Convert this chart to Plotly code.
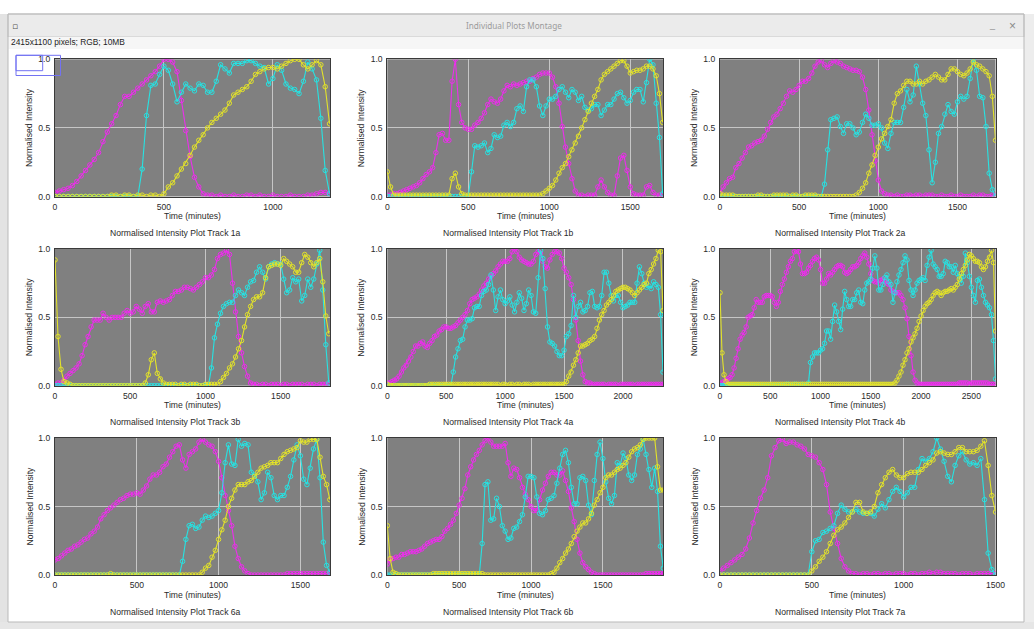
import numpy as np
import plotly.graph_objects as go

W, H = 1034, 629
STEP = 20  # minutes between frames of every track

# ---------------- Track 1a ----------------
M_1A = [0.03,0.04,0.05,0.06,0.08,0.11,0.15,0.19,0.23,0.27,
        0.32,0.40,0.47,0.53,0.59,0.67,0.73,0.73,0.76,0.79,
        0.82,0.85,0.88,0.91,0.95,1.00,1.00,0.98,0.91,0.70,
        0.48,0.29,0.14,0.07,0.02,0.01,0.01,0.00,0.01,0.00,
        0.00,0.01,0.00,0.00,0.01,0.01,0.00,0.01,0.00,0.00,
        0.01,0.00,0.00,0.00,0.01,0.00,0.00,0.00,0.01,0.01,
        0.02,0.03,0.03,0.02]
C_1A = [0.00,0.00,0.00,0.00,0.00,0.00,0.00,0.00,0.00,0.00,
        0.00,0.00,0.00,0.00,0.00,0.00,0.00,0.00,0.00,0.00,
        0.20,0.59,0.81,0.82,0.89,0.95,0.92,0.82,0.69,0.76,
        0.82,0.79,0.77,0.82,0.81,0.76,0.76,0.84,0.96,0.93,
        0.90,0.97,0.97,0.97,0.99,0.99,0.97,0.95,0.94,0.82,
        0.86,0.96,0.92,0.82,0.79,0.78,0.75,0.84,0.98,0.93,
        0.85,0.57,0.19,0.02]
Y_1A = [0.00,0.00,0.00,0.00,0.00,0.00,0.00,0.00,0.00,0.00,
        0.00,0.00,0.00,0.01,0.01,0.00,0.01,0.01,0.00,0.01,
        0.01,0.00,0.01,0.01,0.00,0.02,0.07,0.10,0.15,0.20,
        0.24,0.30,0.36,0.41,0.45,0.50,0.54,0.57,0.60,0.63,
        0.68,0.74,0.76,0.78,0.80,0.84,0.89,0.91,0.93,0.94,
        0.94,0.93,0.95,0.97,0.99,1.00,1.00,0.96,0.93,0.96,
        0.99,0.96,0.80,0.53]

# ---------------- Track 1b ----------------
M_1B = [0.01,0.01,0.02,0.02,0.03,0.04,0.05,0.06,0.07,0.08,
        0.10,0.13,0.16,0.18,0.21,0.32,0.45,0.46,0.41,0.41,
        0.84,1.00,0.67,0.54,0.50,0.49,0.49,0.52,0.54,0.57,
        0.61,0.67,0.71,0.69,0.68,0.71,0.77,0.81,0.80,0.82,
        0.81,0.82,0.83,0.84,0.84,0.86,0.87,0.89,0.90,0.90,
        0.90,0.87,0.80,0.68,0.51,0.36,0.24,0.13,0.04,0.01,
        0.01,0.00,0.01,0.01,0.01,0.07,0.12,0.07,0.03,0.01,
        0.01,0.15,0.28,0.30,0.19,0.07,0.02,0.01,0.01,0.01,
        0.07,0.08,0.03,0.01,0.01,0.01]
C_1B = [0.00,0.00,0.00,0.00,0.00,0.00,0.00,0.00,0.00,0.00,
        0.00,0.00,0.00,0.00,0.00,0.00,0.00,0.00,0.00,0.00,
        0.00,0.00,0.00,0.00,0.00,0.00,0.18,0.37,0.36,0.37,
        0.39,0.32,0.35,0.45,0.43,0.44,0.52,0.54,0.51,0.54,
        0.64,0.66,0.62,0.80,0.85,0.85,0.80,0.66,0.59,0.66,
        0.71,0.71,0.73,0.78,0.80,0.76,0.72,0.78,0.76,0.70,
        0.73,0.65,0.63,0.64,0.67,0.67,0.59,0.63,0.67,0.67,
        0.71,0.75,0.76,0.72,0.68,0.70,0.76,0.78,0.78,0.69,
        0.83,1.00,0.96,0.68,0.43,0.02]
Y_1B = [0.18,0.07,0.01,0.01,0.01,0.01,0.01,0.01,0.01,0.01,
        0.01,0.01,0.01,0.01,0.01,0.01,0.01,0.01,0.01,0.01,
        0.13,0.17,0.07,0.02,0.01,0.01,0.01,0.01,0.01,0.01,
        0.01,0.01,0.01,0.01,0.01,0.01,0.01,0.01,0.01,0.01,
        0.01,0.01,0.01,0.01,0.01,0.01,0.01,0.01,0.02,0.04,
        0.06,0.08,0.12,0.17,0.21,0.24,0.29,0.34,0.39,0.44,
        0.50,0.56,0.62,0.68,0.73,0.78,0.85,0.89,0.91,0.93,
        0.95,0.97,0.99,0.99,0.95,0.90,0.91,0.92,0.92,0.93,
        0.95,0.95,0.93,0.88,0.75,0.54]

# ---------------- Track 2a ----------------
M_2A = [0.03,0.07,0.10,0.13,0.14,0.21,0.24,0.28,0.32,0.36,
        0.37,0.39,0.40,0.41,0.44,0.49,0.54,0.58,0.60,0.64,
        0.68,0.73,0.77,0.76,0.78,0.81,0.84,0.84,0.86,0.90,
        0.95,0.98,0.99,0.96,0.94,0.97,0.99,0.98,0.97,0.95,
        0.94,0.93,0.92,0.92,0.91,0.87,0.78,0.63,0.45,0.26,
        0.12,0.04,0.02,0.01,0.01,0.00,0.01,0.00,0.00,0.01,
        0.01,0.00,0.01,0.01,0.00,0.01,0.01,0.01,0.00,0.00,
        0.01,0.00,0.00,0.01,0.00,0.00,0.01,0.00,0.00,0.00,
        0.01,0.00,0.01,0.01,0.00,0.00,0.01,0.01]
C_2A = [0.00,0.00,0.00,0.00,0.00,0.00,0.00,0.00,0.00,0.00,
        0.00,0.00,0.00,0.00,0.00,0.00,0.00,0.00,0.00,0.00,
        0.00,0.00,0.00,0.00,0.00,0.00,0.00,0.00,0.00,0.00,
        0.00,0.00,0.00,0.09,0.34,0.56,0.57,0.58,0.51,0.46,
        0.53,0.53,0.50,0.45,0.47,0.54,0.60,0.57,0.52,0.52,
        0.53,0.50,0.39,0.35,0.46,0.54,0.54,0.54,0.65,0.78,
        0.69,0.74,0.95,0.82,0.68,0.59,0.34,0.10,0.25,0.46,
        0.51,0.60,0.67,0.62,0.60,0.69,0.73,0.71,0.73,0.86,
        1.00,0.92,0.73,0.72,0.51,0.17,0.05,0.00]
Y_2A = [0.02,0.01,0.01,0.01,0.01,0.00,0.00,0.00,0.00,0.00,
        0.00,0.00,0.01,0.01,0.00,0.00,0.00,0.01,0.01,0.01,
        0.01,0.01,0.00,0.01,0.01,0.00,0.00,0.01,0.01,0.01,
        0.01,0.00,0.00,0.00,0.00,0.00,0.00,0.00,0.00,0.00,
        0.00,0.00,0.00,0.01,0.03,0.06,0.10,0.17,0.23,0.30,
        0.36,0.42,0.46,0.51,0.56,0.68,0.75,0.77,0.81,0.84,
        0.84,0.82,0.82,0.84,0.82,0.84,0.85,0.87,0.89,0.87,
        0.85,0.85,0.89,0.93,0.93,0.91,0.89,0.88,0.90,0.93,
        0.98,0.96,0.95,0.93,0.91,0.88,0.73,0.41]

# ---------------- Track 3b ----------------
M_3B = [0.01,0.02,0.02,0.04,0.07,0.09,0.11,0.13,0.16,0.22,
        0.30,0.36,0.43,0.48,0.48,0.48,0.53,0.50,0.48,0.50,
        0.50,0.50,0.50,0.53,0.55,0.53,0.54,0.58,0.56,0.53,
        0.58,0.60,0.54,0.54,0.61,0.62,0.61,0.62,0.63,0.66,
        0.69,0.69,0.70,0.72,0.72,0.71,0.70,0.72,0.74,0.76,
        0.79,0.79,0.81,0.85,0.93,0.96,0.97,0.99,0.96,0.75,
        0.54,0.36,0.24,0.14,0.07,0.02,0.01,0.01,0.00,0.01,
        0.01,0.00,0.01,0.01,0.01,0.00,0.01,0.01,0.00,0.01,
        0.01,0.01,0.01,0.00,0.01,0.01,0.01,0.00,0.01,0.01,
        0.01,0.01]
C_3B = [0.00,0.00,0.00,0.00,0.00,0.00,0.00,0.00,0.00,0.00,
        0.00,0.00,0.00,0.00,0.00,0.00,0.00,0.00,0.00,0.00,
        0.00,0.00,0.00,0.00,0.00,0.00,0.00,0.00,0.00,0.00,
        0.00,0.00,0.00,0.00,0.00,0.00,0.00,0.00,0.00,0.00,
        0.00,0.00,0.00,0.00,0.00,0.00,0.00,0.00,0.00,0.00,
        0.00,0.00,0.13,0.35,0.45,0.53,0.58,0.60,0.61,0.61,
        0.66,0.70,0.68,0.66,0.72,0.76,0.77,0.83,0.87,0.83,
        0.78,0.87,0.89,0.90,0.89,0.89,0.78,0.68,0.70,0.79,
        0.76,0.78,0.62,0.66,0.78,0.72,0.78,0.89,0.99,0.70,
        0.30,0.02]
Y_3B = [0.92,0.36,0.12,0.03,0.02,0.01,0.00,0.00,0.00,0.00,
        0.00,0.00,0.00,0.00,0.00,0.00,0.00,0.00,0.00,0.00,
        0.00,0.00,0.00,0.00,0.00,0.00,0.00,0.00,0.00,0.00,
        0.02,0.08,0.19,0.24,0.09,0.05,0.02,0.01,0.01,0.01,
        0.01,0.00,0.01,0.01,0.00,0.01,0.01,0.01,0.00,0.00,
        0.01,0.01,0.01,0.01,0.01,0.03,0.06,0.09,0.13,0.16,
        0.21,0.27,0.33,0.43,0.52,0.58,0.63,0.65,0.65,0.68,
        0.79,0.87,0.88,0.89,0.89,0.88,0.93,0.91,0.89,0.87,
        0.83,0.83,0.90,0.96,0.94,0.90,0.87,0.90,0.93,0.76,
        0.51,0.38]

# ---------------- Track 4a ----------------
M_4A = [0.02,0.02,0.03,0.04,0.05,0.07,0.10,0.13,0.15,0.18,
        0.21,0.25,0.29,0.29,0.31,0.32,0.29,0.28,0.31,0.33,
        0.36,0.37,0.40,0.41,0.43,0.43,0.42,0.42,0.43,0.44,
        0.46,0.48,0.50,0.52,0.55,0.60,0.63,0.64,0.65,0.67,
        0.70,0.73,0.75,0.78,0.80,0.82,0.84,0.87,0.89,0.91,
        0.91,0.91,0.93,0.98,1.00,0.98,0.94,0.92,0.91,0.90,
        0.89,0.89,0.91,0.96,0.98,0.97,0.91,0.87,0.86,0.92,
        0.96,0.98,0.98,0.97,0.93,0.86,0.83,0.79,0.74,0.63,
        0.48,0.33,0.18,0.08,0.03,0.02,0.02,0.01,0.01,0.01,
        0.01,0.01,0.01,0.00,0.01,0.01,0.01,0.01,0.00,0.01,
        0.01,0.01,0.01,0.01,0.01,0.00,0.01,0.01,0.01,0.01,
        0.01,0.01,0.01,0.01,0.01,0.01,0.01,0.01]
C_4A = [0.00,0.00,0.00,0.00,0.00,0.00,0.00,0.00,0.00,0.00,
        0.00,0.00,0.00,0.00,0.00,0.00,0.00,0.00,0.00,0.00,
        0.00,0.00,0.00,0.00,0.00,0.00,0.00,0.00,0.10,0.21,
        0.27,0.33,0.34,0.43,0.48,0.48,0.49,0.57,0.58,0.58,
        0.66,0.69,0.70,0.74,0.81,0.70,0.55,0.65,0.70,0.63,
        0.60,0.62,0.65,0.59,0.54,0.61,0.68,0.64,0.55,0.60,
        0.70,0.66,0.54,0.53,0.79,0.99,0.93,0.71,0.43,0.32,
        0.31,0.29,0.25,0.22,0.22,0.26,0.36,0.38,0.44,0.66,
        0.50,0.58,0.61,0.54,0.55,0.58,0.68,0.69,0.58,0.57,
        0.58,0.66,0.83,0.83,0.75,0.66,0.62,0.66,0.66,0.61,
        0.57,0.58,0.59,0.61,0.61,0.61,0.75,0.87,0.82,0.75,
        0.72,0.73,0.71,0.76,0.74,0.72,0.52,0.10]
Y_4A = [0.01,0.00,0.00,0.00,0.00,0.00,0.00,0.00,0.00,0.00,
        0.00,0.00,0.00,0.00,0.00,0.00,0.00,0.00,0.01,0.01,
        0.01,0.01,0.01,0.01,0.01,0.01,0.01,0.01,0.01,0.01,
        0.01,0.01,0.01,0.01,0.01,0.01,0.01,0.01,0.01,0.01,
        0.01,0.01,0.01,0.01,0.01,0.01,0.01,0.01,0.00,0.01,
        0.01,0.00,0.01,0.01,0.00,0.01,0.01,0.00,0.01,0.01,
        0.01,0.00,0.01,0.01,0.01,0.01,0.01,0.01,0.01,0.01,
        0.01,0.01,0.01,0.01,0.01,0.01,0.03,0.07,0.10,0.15,
        0.19,0.24,0.29,0.29,0.30,0.31,0.33,0.34,0.36,0.42,
        0.48,0.52,0.55,0.59,0.61,0.63,0.66,0.69,0.70,0.71,
        0.72,0.72,0.71,0.70,0.68,0.66,0.68,0.70,0.72,0.74,
        0.75,0.82,0.85,0.89,0.93,0.99,0.98,0.55]

# ---------------- Track 4b ----------------
M_4B = [0.02,0.02,0.03,0.04,0.05,0.06,0.08,0.13,0.20,0.27,
        0.34,0.37,0.39,0.43,0.50,0.51,0.52,0.57,0.63,0.61,
        0.61,0.61,0.65,0.66,0.66,0.66,0.65,0.61,0.58,0.61,
        0.69,0.74,0.78,0.83,0.87,0.91,0.93,0.98,0.99,0.98,
        0.89,0.82,0.82,0.83,0.86,0.88,0.91,0.93,0.94,0.92,
        0.85,0.75,0.75,0.78,0.82,0.81,0.83,0.85,0.87,0.88,
        0.88,0.87,0.83,0.82,0.83,0.85,0.87,0.87,0.88,0.90,
        0.93,0.95,0.97,0.94,0.89,0.82,0.77,0.76,0.76,0.75,
        0.77,0.78,0.76,0.75,0.74,0.70,0.69,0.68,0.68,0.68,
        0.66,0.63,0.57,0.49,0.36,0.22,0.10,0.04,0.02,0.01,
        0.01,0.01,0.01,0.01,0.01,0.01,0.01,0.01,0.01,0.01,
        0.01,0.01,0.01,0.01,0.01,0.01,0.01,0.01,0.01,0.02,
        0.02,0.02,0.02,0.02,0.01,0.02,0.02,0.02,0.02,0.02,
        0.02,0.02,0.02,0.02,0.01,0.01,0.01,0.01]
C_4B = [0.00,0.00,0.00,0.00,0.00,0.00,0.00,0.00,0.00,0.00,
        0.00,0.00,0.00,0.00,0.00,0.00,0.00,0.00,0.00,0.00,
        0.00,0.00,0.00,0.00,0.00,0.00,0.00,0.00,0.00,0.00,
        0.00,0.00,0.00,0.01,0.01,0.00,0.00,0.01,0.01,0.00,
        0.00,0.01,0.00,0.00,0.02,0.17,0.21,0.24,0.24,0.24,
        0.26,0.27,0.31,0.40,0.40,0.34,0.47,0.59,0.54,0.47,
        0.41,0.56,0.69,0.63,0.58,0.58,0.63,0.63,0.68,0.70,
        0.61,0.60,0.70,0.75,0.76,0.78,0.86,0.95,0.86,0.70,
        0.70,0.74,0.79,0.81,0.76,0.74,0.61,0.68,0.76,0.81,
        0.85,0.90,0.95,0.92,0.77,0.70,0.66,0.70,0.75,0.77,
        0.78,0.79,0.77,0.88,0.94,0.99,0.89,0.87,0.85,0.80,
        0.80,0.82,0.91,0.90,0.87,0.87,0.83,0.88,0.82,0.80,
        0.75,0.80,0.97,0.90,0.80,0.72,0.66,0.61,0.77,0.78,
        0.72,0.66,0.61,0.59,0.57,0.52,0.33,0.05]
Y_4B = [0.68,0.24,0.08,0.03,0.01,0.01,0.01,0.01,0.01,0.01,
        0.01,0.01,0.01,0.01,0.01,0.01,0.01,0.01,0.01,0.01,
        0.01,0.01,0.01,0.01,0.01,0.01,0.01,0.01,0.01,0.01,
        0.01,0.01,0.01,0.01,0.01,0.01,0.01,0.01,0.01,0.01,
        0.01,0.01,0.01,0.01,0.01,0.01,0.01,0.01,0.01,0.01,
        0.01,0.01,0.01,0.01,0.01,0.01,0.01,0.01,0.01,0.01,
        0.01,0.01,0.01,0.01,0.01,0.01,0.01,0.01,0.01,0.01,
        0.01,0.01,0.01,0.01,0.01,0.01,0.01,0.01,0.01,0.01,
        0.01,0.01,0.01,0.01,0.01,0.01,0.01,0.02,0.04,0.07,
        0.10,0.15,0.19,0.24,0.27,0.32,0.35,0.38,0.42,0.47,
        0.51,0.55,0.58,0.60,0.61,0.63,0.66,0.68,0.69,0.68,
        0.66,0.68,0.69,0.69,0.70,0.71,0.70,0.72,0.74,0.78,
        0.82,0.85,0.88,0.92,0.96,0.95,0.93,0.91,0.91,0.90,
        0.87,0.85,0.87,0.91,0.94,0.99,0.90,0.40]

# ---------------- Track 6a ----------------
M_6A = [0.11,0.12,0.14,0.16,0.18,0.19,0.21,0.22,0.24,0.26,
        0.27,0.30,0.32,0.35,0.41,0.44,0.47,0.49,0.51,0.53,
        0.55,0.56,0.58,0.59,0.59,0.60,0.59,0.62,0.65,0.70,
        0.73,0.73,0.75,0.79,0.81,0.86,0.90,0.94,0.95,0.84,
        0.78,0.88,0.90,0.92,0.97,0.99,0.97,0.95,0.94,0.90,
        0.83,0.71,0.58,0.47,0.36,0.21,0.12,0.06,0.03,0.01,
        0.00,0.00,0.00,0.00,0.00,0.00,0.00,0.00,0.00,0.00,
        0.00,0.01,0.01,0.01,0.01,0.01,0.01,0.01,0.01,0.01,
        0.01,0.01,0.01,0.01,0.01]
C_6A = [0.00,0.00,0.00,0.00,0.00,0.00,0.00,0.00,0.00,0.00,
        0.00,0.00,0.00,0.00,0.00,0.00,0.00,0.00,0.00,0.00,
        0.00,0.00,0.00,0.00,0.00,0.00,0.00,0.00,0.00,0.00,
        0.00,0.00,0.00,0.00,0.00,0.00,0.00,0.00,0.00,0.10,
        0.26,0.36,0.37,0.34,0.35,0.40,0.43,0.42,0.43,0.45,
        0.47,0.60,0.82,0.95,0.81,0.80,0.99,0.94,0.96,0.95,
        0.75,0.73,0.68,0.55,0.60,0.75,0.71,0.58,0.55,0.58,
        0.58,0.64,0.72,0.84,0.95,0.87,0.70,0.66,0.78,0.92,
        0.99,0.71,0.24,0.07,0.02]
Y_6A = [0.00,0.00,0.00,0.00,0.00,0.00,0.00,0.00,0.00,0.00,
        0.00,0.00,0.00,0.00,0.00,0.00,0.00,0.01,0.00,0.00,
        0.00,0.00,0.00,0.00,0.00,0.00,0.00,0.00,0.00,0.00,
        0.00,0.00,0.00,0.00,0.00,0.00,0.00,0.00,0.00,0.00,
        0.00,0.00,0.00,0.00,0.00,0.02,0.05,0.07,0.13,0.18,
        0.26,0.33,0.40,0.50,0.56,0.62,0.66,0.66,0.66,0.68,
        0.69,0.72,0.75,0.78,0.79,0.80,0.82,0.82,0.82,0.85,
        0.88,0.90,0.91,0.92,0.93,0.98,0.97,0.97,0.99,0.99,
        0.99,0.86,0.72,0.66,0.55]

# ---------------- Track 6b ----------------
M_6B = [0.08,0.11,0.12,0.13,0.13,0.15,0.15,0.16,0.17,0.17,
        0.17,0.18,0.19,0.21,0.23,0.24,0.25,0.26,0.26,0.28,
        0.32,0.34,0.37,0.40,0.45,0.51,0.56,0.63,0.73,0.79,
        0.84,0.88,0.91,0.95,0.98,1.00,0.97,0.94,0.94,0.94,
        0.94,0.96,0.82,0.72,0.78,0.77,0.71,0.64,0.59,0.55,
        0.50,0.47,0.47,0.55,0.62,0.67,0.72,0.75,0.75,0.73,
        0.73,0.76,0.69,0.61,0.49,0.39,0.26,0.16,0.09,0.06,
        0.04,0.02,0.01,0.00,0.00,0.00,0.00,0.00,0.00,0.00,
        0.00,0.00,0.00,0.00,0.00,0.00,0.00,0.00,0.00,0.00,
        0.01,0.01,0.01,0.01,0.01,0.01,0.01]
C_6B = [0.00,0.00,0.00,0.00,0.00,0.00,0.00,0.00,0.00,0.00,
        0.00,0.00,0.00,0.00,0.00,0.00,0.00,0.00,0.00,0.00,
        0.00,0.00,0.00,0.00,0.00,0.00,0.00,0.00,0.00,0.00,
        0.00,0.00,0.00,0.23,0.66,0.68,0.40,0.41,0.56,0.50,
        0.36,0.32,0.26,0.27,0.34,0.35,0.39,0.44,0.57,0.72,
        0.72,0.71,0.57,0.45,0.44,0.47,0.55,0.56,0.58,0.67,
        0.78,0.88,0.91,0.82,0.64,0.52,0.52,0.71,0.72,0.69,
        0.51,0.44,0.69,0.88,0.97,0.85,0.68,0.56,0.52,0.58,
        0.82,0.80,0.89,0.85,0.73,0.69,0.73,0.88,0.92,0.99,
        0.88,0.77,0.64,0.78,0.61,0.21,0.05]
Y_6B = [0.36,0.12,0.02,0.01,0.00,0.00,0.00,0.00,0.00,0.00,
        0.00,0.00,0.00,0.00,0.00,0.00,0.01,0.01,0.01,0.01,
        0.01,0.01,0.01,0.01,0.01,0.01,0.01,0.01,0.01,0.01,
        0.01,0.01,0.01,0.01,0.00,0.00,0.00,0.00,0.00,0.00,
        0.00,0.00,0.00,0.00,0.00,0.00,0.00,0.00,0.00,0.00,
        0.00,0.00,0.00,0.00,0.00,0.00,0.00,0.01,0.02,0.05,
        0.09,0.12,0.16,0.19,0.23,0.28,0.32,0.35,0.38,0.38,
        0.41,0.45,0.51,0.55,0.60,0.64,0.71,0.73,0.73,0.75,
        0.77,0.78,0.80,0.82,0.86,0.90,0.92,0.93,0.95,0.99,
        1.00,1.00,1.00,1.00,0.79,0.62,0.62]

# ---------------- Track 7a ----------------
M_7A = [0.03,0.05,0.07,0.09,0.11,0.13,0.15,0.19,0.27,0.38,
        0.47,0.56,0.62,0.71,0.87,0.93,0.98,0.99,0.96,0.97,
        0.97,0.95,0.94,0.92,0.88,0.87,0.86,0.82,0.77,0.66,
        0.46,0.34,0.23,0.12,0.06,0.03,0.01,0.01,0.00,0.01,
        0.01,0.00,0.01,0.01,0.00,0.01,0.01,0.00,0.01,0.01,
        0.01,0.00,0.01,0.01,0.00,0.01,0.01,0.02,0.01,0.02,
        0.02,0.01,0.01,0.01,0.01,0.00,0.01,0.01,0.01,0.00,
        0.01,0.01,0.01,0.01,0.01,0.01]
C_7A = [0.00,0.00,0.00,0.00,0.00,0.00,0.00,0.00,0.00,0.00,
        0.00,0.00,0.00,0.00,0.00,0.00,0.00,0.00,0.00,0.00,
        0.00,0.00,0.00,0.00,0.00,0.17,0.25,0.26,0.31,0.32,
        0.34,0.36,0.45,0.51,0.48,0.46,0.46,0.48,0.46,0.45,
        0.45,0.45,0.43,0.48,0.52,0.49,0.55,0.61,0.64,0.61,
        0.57,0.60,0.64,0.64,0.77,0.85,0.83,0.85,0.90,1.00,
        0.92,0.83,0.72,0.68,0.80,0.87,0.90,0.84,0.81,0.82,
        0.80,0.85,0.55,0.16,0.04,0.00]
Y_7A = [0.00,0.00,0.00,0.00,0.00,0.00,0.00,0.00,0.00,0.00,
        0.00,0.00,0.00,0.00,0.00,0.00,0.00,0.00,0.00,0.00,
        0.00,0.00,0.00,0.00,0.00,0.03,0.06,0.10,0.13,0.17,
        0.23,0.29,0.33,0.35,0.38,0.42,0.46,0.53,0.53,0.46,
        0.45,0.46,0.50,0.60,0.66,0.71,0.75,0.77,0.73,0.71,
        0.71,0.74,0.75,0.75,0.75,0.77,0.80,0.82,0.84,0.89,
        0.90,0.89,0.88,0.88,0.90,0.93,0.93,0.90,0.90,0.90,
        0.91,0.94,0.98,0.80,0.58,0.46]

TRACKS = ["1a", "1b", "2a", "3b", "4a", "4b", "6a", "6b", "7a"]
SERIES = [(M_1A, C_1A, Y_1A), (M_1B, C_1B, Y_1B), (M_2A, C_2A, Y_2A),
          (M_3B, C_3B, Y_3B), (M_4A, C_4A, Y_4A), (M_4B, C_4B, Y_4B),
          (M_6A, C_6A, Y_6A), (M_6B, C_6B, Y_6B), (M_7A, C_7A, Y_7A)]
X_MAX = [1262, 1702, 1740, 1828, 2340, 2740, 1681, 1918, 1500]
X_TICKS = [[0, 500, 1000], [0, 500, 1000, 1500], [0, 500, 1000, 1500],
           [0, 500, 1000, 1500], [0, 500, 1000, 1500, 2000],
           [0, 500, 1000, 1500, 2000, 2500], [0, 500, 1000, 1500],
           [0, 500, 1000, 1500], [0, 500, 1000, 1500]]
Y_TICKS = [0.0, 0.5, 1.0]
Y_TICK_TEXT = ["0.0", "0.5", "1.0"]

# ---------------- styling / geometry (pixels) ----------------
COLORS = ["#ec2eec", "#27e2e2", "#e2e22a"]
PLOT_BG = "#808080"
GRID = "#c6c6c6"
FRAME = "#3a3a3a"
TEXT = "#2a2a2a"
FONT = "Liberation Sans, Arial, sans-serif"
FS = 8.6

COL_X = [(55.0, 330.0), (387.3, 663.0), (720.0, 995.5)]
ROW_Y = [(59.3, 196.5), (249.0, 385.7), (438.0, 575.0)]


def px(x):
    return x / W


def py(y):
    return 1 - y / H


fig = go.Figure()
layout = {}
annotations = []

for i, (name, series) in enumerate(zip(TRACKS, SERIES)):
    r, c = divmod(i, 3)
    x0, x1 = COL_X[c]
    y0, y1 = ROW_Y[r]
    ax = "" if i == 0 else str(i + 1)

    for vals, col in zip(series, COLORS):
        t = np.arange(len(vals)) * STEP
        fig.add_trace(go.Scatter(
            x=t, y=vals, mode="lines+markers",
            xaxis="x" + ax, yaxis="y" + ax,
            line=dict(color=col, width=1.1),
            marker=dict(symbol="circle-open", size=4.5, color=col,
                        line=dict(width=1, color=col)),
            showlegend=False, hoverinfo="skip"))

    # automargin off: the panels must sit exactly where their domains say
    common = dict(showgrid=True, gridcolor=GRID, gridwidth=1, zeroline=False,
                  showline=True, linecolor=FRAME, linewidth=1, mirror=True,
                  ticks="outside", ticklen=2, tickcolor="rgba(0,0,0,0)",
                  tickfont=dict(size=FS, color=TEXT, family=FONT),
                  automargin=False, fixedrange=True)
    layout["xaxis" + ax] = dict(domain=[px(x0), px(x1)], anchor="y" + ax,
                                range=[0, X_MAX[i]], tickvals=X_TICKS[i],
                                ticktext=[str(v) for v in X_TICKS[i]], **common)
    layout["yaxis" + ax] = dict(domain=[py(y1), py(y0)], anchor="x" + ax,
                                range=[0, 1], tickvals=Y_TICKS,
                                ticktext=Y_TICK_TEXT, **common)

    xc = (x0 + x1) / 2
    annotations.append(dict(text="Time (minutes)", x=px(xc), y=py(y1 + 19.5),
                            xref="paper", yref="paper", showarrow=False,
                            xanchor="center", yanchor="middle",
                            font=dict(size=FS, color=TEXT, family=FONT)))
    annotations.append(dict(text="Normalised Intensity Plot Track " + name,
                            x=px(xc - 17), y=py(y1 + 36.5),
                            xref="paper", yref="paper", showarrow=False,
                            xanchor="center", yanchor="middle",
                            font=dict(size=FS, color=TEXT, family=FONT)))
    annotations.append(dict(text="Normalised Intensity", x=px(x0 - 26),
                            y=py((y0 + y1) / 2), textangle=-90,
                            xref="paper", yref="paper", showarrow=False,
                            xanchor="center", yanchor="middle",
                            font=dict(size=FS, color=TEXT, family=FONT)))

# ---------------- window chrome ----------------
def rect(x0, y0, x1, y1, fill=None, line=None, width=1):
    return dict(type="rect", xref="paper", yref="paper",
                x0=px(x0), x1=px(x1), y0=py(y1), y1=py(y0),
                fillcolor=fill if fill else "rgba(0,0,0,0)",
                line=dict(color=line if line else "rgba(0,0,0,0)", width=width),
                layer="below")

shapes = [
    rect(0, 14, 8, 629, fill="#e3e3e3"),
    rect(1024, 14, 1034, 629, fill="#ededed"),
    rect(0, 622, 1034, 629, fill="#e6e6e6"),
    rect(8, 14, 1024, 37, fill="#ebebeb", line="#c9c9c9"),
    rect(8, 37, 1024, 49, fill="#f6f6f6"),
    rect(8, 14, 1024, 622, line="#b9b9b9"),
]
roi = [rect(16, 55.3, 60.5, 75.5, line="#7272f2"),
       rect(16, 55.3, 42.7, 70.7, line="#7272f2")]
for s in roi:
    s["layer"] = "above"
shapes += roi

annotations += [
    dict(text="Individual Plots Montage", x=px(514), y=py(26), xref="paper",
         yref="paper", showarrow=False, xanchor="center", yanchor="middle",
         font=dict(size=8.2, color="#9b9b9b", family="Noto Sans, sans-serif")),
    dict(text="2415x1100 pixels; RGB; 10MB", x=px(9), y=py(42.5), xref="paper",
         yref="paper", showarrow=False, xanchor="left", yanchor="middle",
         font=dict(size=8.4, color="#1e1e1e", family=FONT)),
    dict(text="▫", x=px(15), y=py(25.5), xref="paper", yref="paper",
         showarrow=False, xanchor="center", yanchor="middle",
         font=dict(size=9, color="#555555", family="DejaVu Sans")),
    dict(text="_", x=px(992), y=py(24.5), xref="paper", yref="paper",
         showarrow=False, xanchor="center", yanchor="middle",
         font=dict(size=9, color="#8a8a8a", family=FONT)),
    dict(text="×", x=px(1012.5), y=py(26), xref="paper", yref="paper",
         showarrow=False, xanchor="center", yanchor="middle",
         font=dict(size=12, color="#8a8a8a", family=FONT)),
]

fig.update_layout(
    width=W, height=H, autosize=False,
    margin=dict(l=0, r=0, t=0, b=0, pad=0),
    paper_bgcolor="#ffffff", plot_bgcolor=PLOT_BG,
    annotations=annotations, shapes=shapes,
    **layout)

fig.write_html("out.html", config={"displayModeBar": False})
